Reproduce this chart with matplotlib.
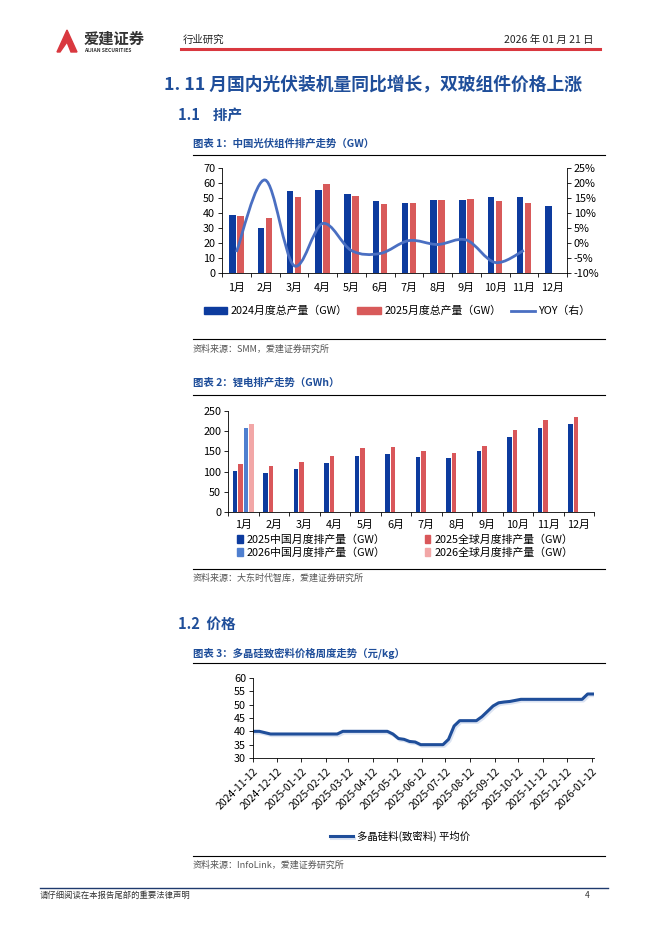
import numpy as np
import matplotlib
matplotlib.use("Agg")
import matplotlib.pyplot as plt
import matplotlib.dates as mdates
import matplotlib.patheffects as pe
from matplotlib.path import Path
from matplotlib.patches import PathPatch, Polygon
from matplotlib.lines import Line2D
from matplotlib.patches import Patch
import datetime as dt

plt.rcParams['font.family'] = ['Noto Sans CJK SC', 'DejaVu Sans']

# ---------- data ----------
months = ['1月', '2月', '3月', '4月', '5月', '6月', '7月', '8月', '9月', '10月', '11月', '12月']

pv_2024 = [39, 30, 55, 55.5, 53, 48, 46.5, 49, 49, 51, 50.5, 44.5]
pv_2025 = [38, 36.5, 51, 59.5, 51.5, 46, 47, 49, 49.5, 48, 46.5, np.nan]
pv_yoy = [-3.0, 21.0, -7.5, 6.5, -2.5, -3.5, 0.8, -0.5, 1.0, -6.5, -2.5]  # %

li_cn_2025 = [102, 96, 107, 121, 139, 143, 137, 133, 151, 185, 208, 219]
li_gl_2025 = [120, 114, 124, 139, 158, 160, 151, 145, 163, 204, 228, 235]
li_cn_2026 = [209] + [np.nan] * 11
li_gl_2026 = [218] + [np.nan] * 11

poly_start = dt.date(2024, 11, 13)
poly_price = [40, 40, 39.5, 39, 39, 39, 39, 39, 39, 39, 39, 39, 39, 39, 39, 39,
              40, 40, 40, 40, 40, 40, 40, 40, 40, 39, 37.3, 37, 36.2, 36, 35,
              35, 35, 35, 35, 37, 42, 44, 44, 44, 44, 45.5, 47.5, 49.5, 50.7,
              51, 51.2, 51.6, 52, 52, 52, 52, 52, 52, 52, 52, 52, 52, 52, 52,
              54, 54]
poly_dates = [poly_start + dt.timedelta(weeks=i) for i in range(len(poly_price))]

# ---------- page ----------
W, H = 662, 936
fig = plt.figure(figsize=(W / 100, H / 100), dpi=100)
BLUE_T = '#1F4E9A'
DARK = '#0D3B9E'
RED = '#D85A5A'


def ax_px(l, t, r, b):
    return fig.add_axes([l / W, 1 - b / H, (r - l) / W, (b - t) / H])


def hline(x0, x1, y, color='black', lw=0.8):
    fig.add_artist(Line2D([x0 / W, x1 / W], [1 - y / H, 1 - y / H], color=color, lw=lw))


def txt(x, y, s, **kw):
    fig.text(x / W, 1 - y / H, s, va='center', **kw)


# header
fig.add_artist(Polygon([(57 / W, 1 - 52 / H), (67 / W, 1 - 30 / H), (77 / W, 1 - 52 / H),
                        (71 / W, 1 - 52 / H), (67 / W, 1 - 42 / H), (60 / W, 1 - 52 / H)],
                       closed=True, color='#D9383F'))
txt(84, 39, '爱建证券', fontsize=11, fontweight='bold', color='#333333')
txt(84, 50, 'AIJIAN SECURITIES', fontsize=3.6, fontweight='bold', color='#333333')
txt(183, 40, '行业研究', fontsize=7.5, color='#222222')
txt(594, 40, '2026 年 01 月 21 日', fontsize=7.5, color='#222222', ha='right')
hline(181, 600, 48.5, color='#D9383F', lw=2.2)

txt(164, 84, '1. 11 月国内光伏装机量同比增长，双玻组件价格上涨', fontsize=12.8,
    fontweight='bold', color=BLUE_T)
txt(178, 115, '1.1    排产', fontsize=10.5, fontweight='bold', color=BLUE_T)

# ---------- chart 1 ----------
txt(193, 144, '图表 1：中国光伏组件排产走势（GW）', fontsize=7.5, fontweight='bold', color=BLUE_T)
hline(193, 605, 154.5)

ax1 = ax_px(222, 168, 567, 273)
x = np.arange(12)
b1 = ax1.bar(x - 0.14, pv_2024, width=0.22, color=DARK)
b2 = ax1.bar(x + 0.14, pv_2025, width=0.22, color=RED)
ax1.set_xlim(-0.5, 11.5)
ax1.set_ylim(0, 70)
ax1.set_yticks(range(0, 71, 10))
ax1.set_xticks(x)
ax1.set_xticklabels(months)
ax1.set_xticks(np.arange(-0.5, 12, 1), minor=True)
ax1.tick_params(axis='x', which='major', length=0, labelsize=7.8, pad=7)
ax1.tick_params(axis='x', which='minor', length=3, width=0.6)
ax1.tick_params(axis='y', length=3, width=0.6, labelsize=7.8, pad=2)
ax1.spines['top'].set_visible(False)
ax1.spines['right'].set_visible(False)
for s in ('left', 'bottom'):
    ax1.spines[s].set_linewidth(0.6)

ax1r = ax1.twinx()
ax1r.set_ylim(-10, 25)
ax1r.set_yticks(range(-10, 26, 5))
ax1r.set_yticklabels([f'{v}%' for v in range(-10, 26, 5)])
ax1r.tick_params(axis='y', length=3, width=0.6, labelsize=7.8, pad=2)
ax1r.spines['top'].set_visible(False)
ax1r.spines['left'].set_visible(False)
ax1r.spines['bottom'].set_visible(False)
ax1r.spines['right'].set_linewidth(0.6)

# smooth YOY line (Catmull-Rom through the monthly points)
px = np.arange(len(pv_yoy), dtype=float)
py = np.array(pv_yoy, dtype=float)
verts = [(px[0], py[0])]
codes = [Path.MOVETO]
n = len(px)
for i in range(n - 1):
    p0 = np.array([px[max(i - 1, 0)], py[max(i - 1, 0)]])
    p1 = np.array([px[i], py[i]])
    p2 = np.array([px[i + 1], py[i + 1]])
    p3 = np.array([px[min(i + 2, n - 1)], py[min(i + 2, n - 1)]])
    verts += [tuple(p1 + (p2 - p0) / 6), tuple(p2 - (p3 - p1) / 6), tuple(p2)]
    codes += [Path.CURVE4] * 3
ax1r.add_patch(PathPatch(Path(verts, codes), fill=False, edgecolor='#4A6FC2', lw=2.0))

fig.legend([Patch(color=DARK), Patch(color=RED), Line2D([], [], color='#4A6FC2', lw=2)],
           ['2024月度总产量（GW）', '2025月度总产量（GW）', 'YOY（右）'],
           loc='center', bbox_to_anchor=(397 / W, 1 - 311 / H), ncol=3, frameon=False,
           fontsize=7.8, handlelength=2.2, handleheight=0.55, columnspacing=0.9,
           handletextpad=0.3)

hline(193, 605, 338.5)
txt(193, 349, '资料来源：SMM，爱建证券研究所', fontsize=6.5, color='#555555')

# ---------- chart 2 ----------
txt(193, 383, '图表 2：锂电排产走势（GWh）', fontsize=7.5, fontweight='bold', color=BLUE_T)
hline(193, 605, 394.5)

ax2 = ax_px(228, 411, 594, 512)
w2 = 0.15
c1 = ax2.bar(x - 0.27, li_cn_2025, width=w2, color=DARK)
c2 = ax2.bar(x - 0.09, li_gl_2025, width=w2, color='#D9575A')
c3 = ax2.bar(x + 0.09, li_cn_2026, width=w2, color='#4F7FCF')
c4 = ax2.bar(x + 0.27, li_gl_2026, width=w2, color='#F2A7A7')
ax2.set_xlim(-0.5, 11.5)
ax2.set_ylim(0, 250)
ax2.set_yticks(range(0, 251, 50))
ax2.set_xticks(x)
ax2.set_xticklabels(months)
ax2.set_xticks(np.arange(-0.5, 12, 1), minor=True)
ax2.tick_params(axis='x', which='major', length=0, labelsize=7.8, pad=6)
ax2.tick_params(axis='x', which='minor', length=3, width=0.6)
ax2.tick_params(axis='y', length=3, width=0.6, labelsize=7.8, pad=2)
ax2.spines['top'].set_visible(False)
ax2.spines['right'].set_visible(False)
for s in ('left', 'bottom'):
    ax2.spines[s].set_linewidth(0.6)

fig.legend([Patch(color=DARK), Patch(color='#4F7FCF'), Patch(color='#D9575A'), Patch(color='#F2A7A7')],
           ['2025中国月度排产量（GW）', '2026中国月度排产量（GW）',
            '2025全球月度排产量（GW）', '2026全球月度排产量（GW）'],
           loc='center', bbox_to_anchor=(405 / W, 1 - 546 / H), ncol=2, frameon=False,
           fontsize=7.8, handlelength=0.55, handleheight=0.7, columnspacing=3.6,
           handletextpad=0.35, labelspacing=0.25)

hline(193, 605, 568.5)
txt(193, 578, '资料来源：大东时代智库，爱建证券研究所', fontsize=6.5, color='#555555')

# ---------- chart 3 ----------
txt(178, 624, '1.2  价格', fontsize=10.5, fontweight='bold', color=BLUE_T)
txt(193, 653, '图表 3：多晶硅致密料价格周度走势（元/kg）', fontsize=7.5, fontweight='bold', color=BLUE_T)
hline(193, 605, 662.5)

ax3 = ax_px(253, 678, 594, 758)
shadow = [pe.SimpleLineShadow(offset=(1.0, -1.2), shadow_color='#9AB0DA', alpha=0.35),
          pe.Normal()]
ax3.plot(poly_dates, poly_price, color='#1F4E9A', lw=2.2, path_effects=shadow)
ax3.set_xlim(dt.date(2024, 11, 12), dt.date(2026, 1, 15))
ax3.set_ylim(30, 60)
ax3.set_yticks(range(30, 61, 5))
ax3.xaxis.set_major_locator(mdates.MonthLocator(bymonthday=12))
ax3.xaxis.set_major_formatter(mdates.DateFormatter('%Y-%m-%d'))
for lab in ax3.get_xticklabels():
    lab.set_rotation(45)
    lab.set_ha('right')
    lab.set_rotation_mode('anchor')
ax3.tick_params(axis='x', length=3, width=0.6, labelsize=7.5, pad=3)
ax3.tick_params(axis='y', length=3, width=0.6, labelsize=7.8, pad=2)
ax3.spines['top'].set_visible(False)
ax3.spines['right'].set_visible(False)
for s in ('left', 'bottom'):
    ax3.spines[s].set_linewidth(0.6)

fig.legend([Line2D([], [], color='#1F4E9A', lw=2.2, path_effects=shadow)],
           ['多晶硅料(致密料) 平均价'], loc='center',
           bbox_to_anchor=(400 / W, 1 - 836 / H), frameon=False, fontsize=7.5,
           handlelength=2.2, handletextpad=0.4)

hline(193, 605, 855.5)
txt(193, 865, '资料来源：InfoLink，爱建证券研究所', fontsize=6.5, color='#555555')

# footer
hline(40, 608, 887.5, color='#1F3A6E', lw=1.0)
txt(40, 895, '请仔细阅读在本报告尾部的重要法律声明', fontsize=6, color='#333333')
txt(590, 895, '4', fontsize=6, color='#333333', ha='right')

fig.savefig('out.png', dpi=100)
